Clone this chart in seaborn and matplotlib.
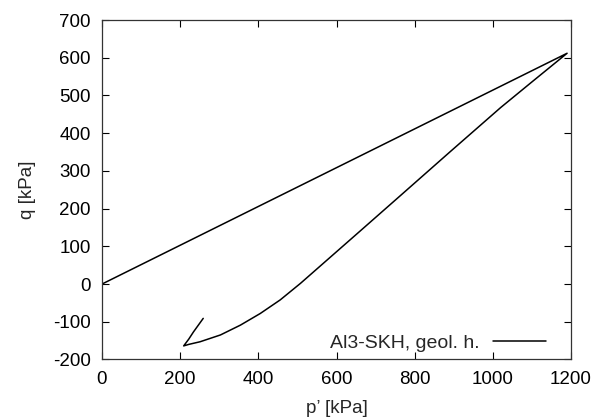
import matplotlib
matplotlib.use("Agg")
import matplotlib.pyplot as plt
import pandas as pd
import seaborn as sns

# stress path p'-q
p_kpa = [0, 1190, 1100, 1020, 892, 764, 662, 585, 508, 456, 405, 354, 303, 251, 222, 209, 222, 234, 259]
q_kpa = [0, 612, 536, 468, 352, 235, 142, 72, 2, -42, -78, -109, -135, -153, -160, -164, -146, -127, -91]
label = "Al3-SKH, geol. h."

df = pd.DataFrame({"p": p_kpa, "q": q_kpa, "series": label})

sns.set_style("ticks")
plt.rcParams["font.family"] = ["Liberation Sans", "DejaVu Sans"]
plt.rcParams["axes.unicode_minus"] = False

fig = plt.figure(figsize=(5.94, 4.18), dpi=100)
ax = fig.add_axes([0.1717, 0.140, 0.7896, 0.812])

sns.lineplot(data=df, x="p", y="q", hue="series", palette=["black"],
             sort=False, estimator=None, linewidth=1.1, ax=ax)

ax.set_xlim(0, 1200)
ax.set_ylim(-200, 700)
ax.set_xticks(range(0, 1201, 200))
ax.set_yticks(range(-200, 701, 100))
ax.tick_params(direction="in", length=5, width=0.8, top=True, right=True,
               labelsize=13.5, colors="black", pad=8)
for s in ax.spines.values():
    s.set_visible(True)
    s.set_linewidth(0.9)
    s.set_color("#333333")

ax.set_xlabel("p’ [kPa]", fontsize=13.5, labelpad=9)
ax.set_ylabel("q [kPa]", fontsize=13.5, labelpad=12)

ax.legend(loc="lower right", bbox_to_anchor=(0.9466, 0.023), frameon=False,
          markerfirst=False, fontsize=14, handlelength=2.7, borderaxespad=0,
          borderpad=0, handletextpad=0.7)

fig.savefig("out.png", dpi=100)
